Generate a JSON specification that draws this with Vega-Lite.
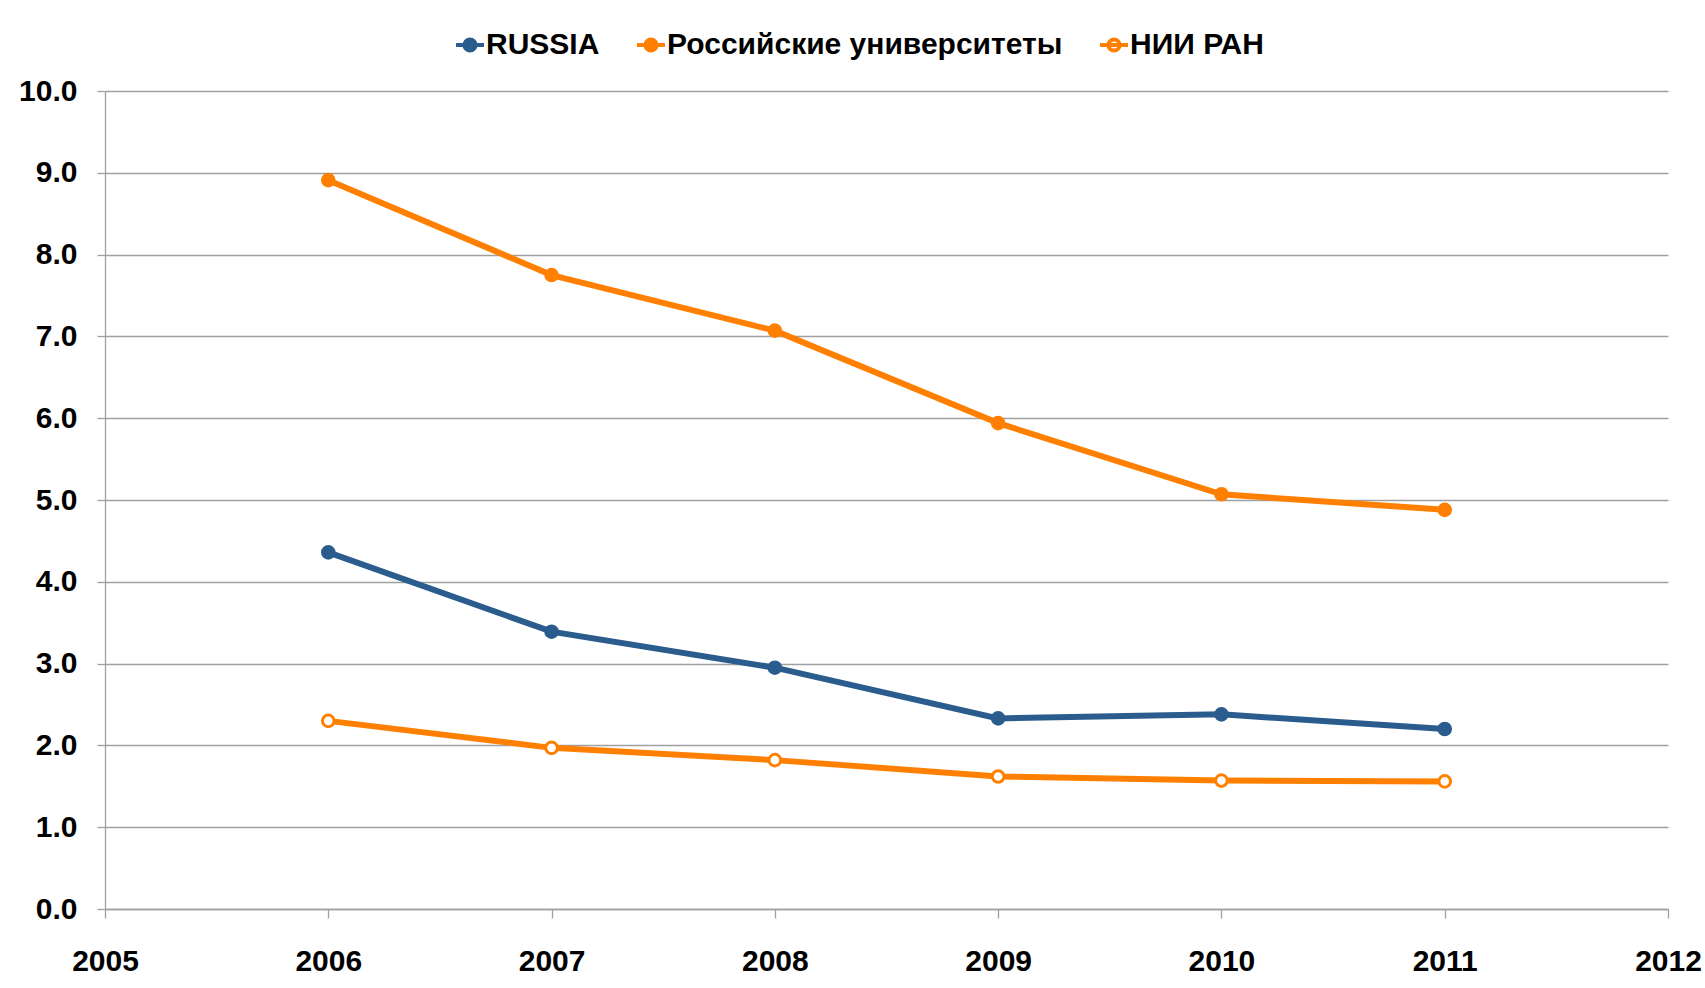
{
  "$schema": "https://vega.github.io/schema/vega-lite/v6.json",
  "width": 1563,
  "height": 818,
  "autosize": {"type": "none"},
  "padding": {"left": 105, "top": 91, "right": 37, "bottom": 79},
  "background": "white",
  "config": {"view": {"stroke": null}, "font": "Liberation Sans"},
  "data": {
    "values": [
      {"year": 2006, "series": "RUSSIA", "value": 4.36},
      {"year": 2007, "series": "RUSSIA", "value": 3.39},
      {"year": 2008, "series": "RUSSIA", "value": 2.95},
      {"year": 2009, "series": "RUSSIA", "value": 2.33},
      {"year": 2010, "series": "RUSSIA", "value": 2.38},
      {"year": 2011, "series": "RUSSIA", "value": 2.2},
      {"year": 2006, "series": "Российские университеты", "value": 8.91},
      {"year": 2007, "series": "Российские университеты", "value": 7.75},
      {"year": 2008, "series": "Российские университеты", "value": 7.07},
      {"year": 2009, "series": "Российские университеты", "value": 5.94},
      {"year": 2010, "series": "Российские университеты", "value": 5.07},
      {"year": 2011, "series": "Российские университеты", "value": 4.88},
      {"year": 2006, "series": "НИИ РАН", "value": 2.3},
      {"year": 2007, "series": "НИИ РАН", "value": 1.97},
      {"year": 2008, "series": "НИИ РАН", "value": 1.82},
      {"year": 2009, "series": "НИИ РАН", "value": 1.62},
      {"year": 2010, "series": "НИИ РАН", "value": 1.57},
      {"year": 2011, "series": "НИИ РАН", "value": 1.56}
    ]
  },
  "encoding": {
    "x": {
      "field": "year",
      "type": "quantitative",
      "scale": {"domain": [2005, 2012], "nice": false, "zero": false},
      "axis": {
        "title": null,
        "values": [2005, 2006, 2007, 2008, 2009, 2010, 2011, 2012],
        "format": "d",
        "grid": false,
        "tickSize": 9,
        "tickColor": "#a0a0a0",
        "tickWidth": 1.3,
        "domainColor": "#a0a0a0",
        "domainWidth": 1.3,
        "labelPadding": 28,
        "labelFontSize": 30,
        "labelFontWeight": "bold",
        "labelColor": "black",
        "labelFlush": false,
        "labelOverlap": false
      }
    },
    "y": {
      "field": "value",
      "type": "quantitative",
      "scale": {"domain": [0, 10], "nice": false},
      "axis": {
        "title": null,
        "values": [0, 1, 2, 3, 4, 5, 6, 7, 8, 9, 10],
        "format": ".1f",
        "grid": true,
        "gridColor": "#a0a0a0",
        "gridWidth": 1.3,
        "tickSize": 8,
        "tickColor": "#a0a0a0",
        "tickWidth": 1.3,
        "domainColor": "#a0a0a0",
        "domainWidth": 1.3,
        "labelPadding": 20,
        "labelFontSize": 30,
        "labelFontWeight": "bold",
        "labelColor": "black",
        "labelOverlap": false
      }
    },
    "stroke": {
      "field": "series",
      "type": "nominal",
      "scale": {
        "domain": ["RUSSIA", "Российские университеты", "НИИ РАН"],
        "range": ["#2a5c8e", "#ff8000", "#ff8000"]
      },
      "legend": {
        "orient": "none",
        "legendX": 349,
        "legendY": -62,
        "direction": "horizontal",
        "title": null,
        "symbolType": "M-1,0H1M-0.4,0A0.4,0.4 0 1,1 0.4,0A0.4,0.4 0 1,1 -0.4,0Z",
        "symbolSize": 784,
        "symbolStrokeWidth": 4,
        "labelFontWeight": "bold",
        "labelFontSize": 30,
        "labelColor": "black",
        "labelOffset": 0,
        "labelLimit": 0,
        "columnPadding": 29
      }
    }
  },
  "layer": [
    {"mark": {"type": "line", "strokeWidth": 6}},
    {
      "mark": {"type": "point", "filled": true, "size": 135, "strokeWidth": 3, "opacity": 1},
      "encoding": {
        "fill": {
          "field": "series",
          "type": "nominal",
          "scale": {
            "domain": ["RUSSIA", "Российские университеты", "НИИ РАН"],
            "range": ["#2a5c8e", "#ff8000", "#ffffff"]
          },
          "legend": {
            "orient": "none",
            "legendX": 349,
            "legendY": -62,
            "direction": "horizontal",
            "title": null,
            "symbolType": "M-1,0H1M-0.4,0A0.4,0.4 0 1,1 0.4,0A0.4,0.4 0 1,1 -0.4,0Z",
            "symbolSize": 784,
            "symbolStrokeWidth": 4,
            "labelFontWeight": "bold",
            "labelFontSize": 30,
            "labelColor": "black",
            "labelOffset": 0,
            "labelLimit": 0,
            "columnPadding": 29
          }
        }
      }
    }
  ]
}
